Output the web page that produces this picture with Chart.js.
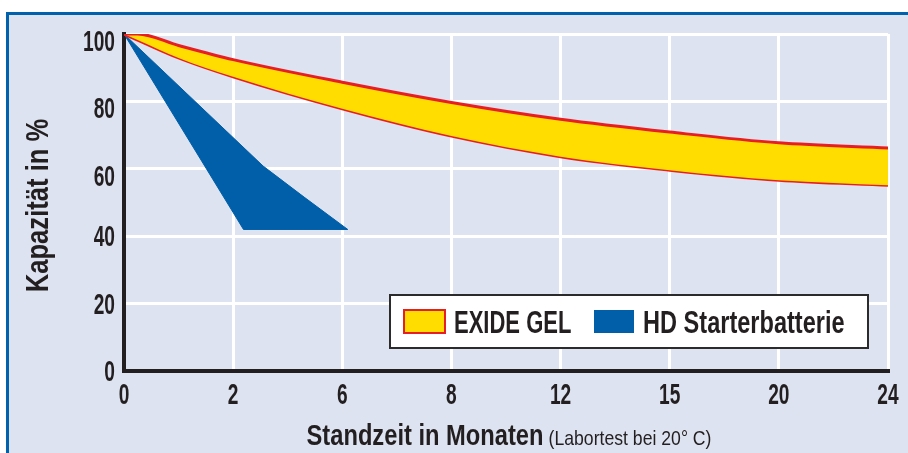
<!DOCTYPE html>
<html lang="de">
<head>
<meta charset="utf-8">
<title>Kapazität in % – Standzeit in Monaten</title>
<script src="https://cdn.jsdelivr.net/npm/chart.js@4.4.1/dist/chart.umd.min.js"></script>
<style>
  html, body { margin: 0; padding: 0; background: #fff; }
  canvas { display: block; }
</style>
</head>
<body>
<canvas id="chart" width="908" height="453"></canvas>
<script>
// x axis tick labels (months) - evenly spaced on the axis
const monthTicks = [0, 2, 6, 8, 12, 15, 20, 24];

const seriesNames = ['EXIDE GEL', 'HD Starterbatterie'];

// EXIDE GEL band: upper and lower edge (months / %)
const gelMonths = [0, 0.25, 1, 2, 6, 8, 12, 15, 20, 24];
const gelUpper  = [100, 100, 96.6, 92.4, 85.7, 79.7, 74.7, 70.9, 67.7, 66.2];
const gelLower  = [100, 98.2, 92.9, 87.3, 77.8, 69.7, 63.6, 59.6, 56.6, 55.1];

// HD Starterbatterie wedge: right (upper) edge and left/bottom edge
const hdRightMonths = [0, 3.1, 4.6, 6.1];
const hdRight       = [100, 60.8, 51.6, 42];
const hdLeftMonths  = [0, 2.38, 6.1];
const hdLeft        = [100, 42, 42];

const PANEL = '#dde3f0';
const FRAME = '#0062ac';
const YELLOW = '#ffdd00';
const RED = '#e81e25';
const BLUE = '#005fa8';
const INK = '#231f20';
const SANS = "'Liberation Sans', Arial, sans-serif";

// the month axis is not linear: every tick gets the same width
function monthToPos(m) {
    for (let i = 0; i < monthTicks.length - 1; i++) {
        const a = monthTicks[i], b = monthTicks[i + 1];
        if (m <= b) return i + (m - a) / (b - a);
    }
    return monthTicks.length - 1;
}

const toPoints = (months, values) => months.map((m, i) => ({ x: monthToPos(m), y: values[i] }));

// condensed look: draw the text squeezed horizontally
function drawText(ctx, text, x, y, font, sx, align, rotate) {
    ctx.save();
    ctx.translate(x, y);
    if (rotate) ctx.rotate(rotate);
    ctx.scale(sx, 1);
    ctx.font = font;
    ctx.textAlign = align || 'left';
    ctx.textBaseline = 'alphabetic';
    ctx.fillStyle = INK;
    ctx.fillText(text, 0, 0);
    ctx.restore();
}

function textWidth(ctx, text, font, sx) {
    ctx.save();
    ctx.font = font;
    const w = ctx.measureText(text).width * sx;
    ctx.restore();
    return w;
}

// light panel with the blue frame line on top and left
const framePlugin = {
    id: 'frame',
    beforeDraw(chart) {
        const { ctx, width, height } = chart;
        ctx.save();
        ctx.fillStyle = '#fff';
        ctx.fillRect(0, 0, width, height);
        ctx.fillStyle = PANEL;
        ctx.fillRect(6, 12, width - 6, height - 12);
        ctx.fillStyle = FRAME;
        ctx.fillRect(6, 12, width - 6, 3);
        ctx.fillRect(6, 12, 3, height - 12);
        ctx.restore();
    }
};

// tick labels and axis titles
const labelsPlugin = {
    id: 'axisLabels',
    afterDraw(chart) {
        const { ctx, chartArea, scales: { x, y } } = chart;
        const tickFont = 'bold 29px ' + SANS;

        x.ticks.forEach(t => {
            drawText(ctx, String(monthTicks[t.value]), x.getPixelForValue(t.value), x.top + 33, tickFont, 0.66, 'center');
        });
        y.ticks.forEach(t => {
            const shift = t.value >= 60 ? 7 : 0;
            drawText(ctx, String(t.value), y.right - 9, y.getPixelForValue(t.value) + 10 + shift, tickFont, 0.66, 'right');
        });

        // y title
        drawText(ctx, 'Kapazität in %', 48, (chartArea.top + chartArea.bottom) / 2 + 3,
                 'bold 32px ' + SANS, 0.8, 'center', -Math.PI / 2);

        // x title, two sizes
        const main = 'Standzeit in Monaten';
        const note = '(Labortest bei 20° C)';
        const f1 = 'bold 30px ' + SANS, s1 = 0.79;
        const f2 = '21px ' + SANS, s2 = 0.84;
        const w1 = textWidth(ctx, main, f1, s1);
        const w2 = textWidth(ctx, note, f2, s2);
        const gap = 5;
        const cx = (chartArea.left + chartArea.right) / 2 + 3;
        const x0 = cx - (w1 + gap + w2) / 2;
        const by = chartArea.bottom + 74;
        drawText(ctx, main, x0, by, f1, s1);
        drawText(ctx, note, x0 + w1 + gap, by, f2, s2);
    }
};

// boxed legend inside the plot, bottom right
const legendPlugin = {
    id: 'boxLegend',
    afterDraw(chart) {
        const { ctx, chartArea } = chart;
        const w = 478, h = 53;
        const right = chartArea.right - 20;
        const bottom = chartArea.bottom - 23;
        const left = right - w, top = bottom - h;
        const font = 'bold 31px ' + SANS;
        ctx.save();
        ctx.fillStyle = '#fff';
        ctx.fillRect(left, top, w, h);
        ctx.strokeStyle = '#2b2b2b';
        ctx.lineWidth = 2;
        ctx.strokeRect(left, top, w, h);

        // EXIDE GEL
        let x = left + 14;
        ctx.fillStyle = YELLOW;
        ctx.fillRect(x, top + 15, 41, 23);
        ctx.strokeStyle = RED;
        ctx.lineWidth = 2;
        ctx.strokeRect(x, top + 15, 41, 23);
        drawText(ctx, seriesNames[0], x + 50, top + 38, font, 0.71);

        // HD Starterbatterie
        x = left + 204;
        ctx.fillStyle = BLUE;
        ctx.fillRect(x, top + 15, 40, 23);
        drawText(ctx, seriesNames[1], x + 49, top + 38, font, 0.76);
        ctx.restore();
    }
};

const ctx = document.getElementById('chart').getContext('2d');

new Chart(ctx, {
    type: 'line',
    data: {
        datasets: [
            {
                label: seriesNames[0],
                data: toPoints(gelMonths, gelUpper),
                borderColor: RED,
                borderWidth: 3,
                backgroundColor: YELLOW,
                fill: '+1'
            },
            {
                label: seriesNames[0] + ' (min)',
                data: toPoints(gelMonths, gelLower),
                borderColor: RED,
                borderWidth: 3,
                fill: false
            },
            {
                label: seriesNames[1],
                data: toPoints(hdRightMonths, hdRight),
                borderColor: BLUE,
                borderWidth: 1,
                backgroundColor: BLUE,
                tension: 0,
                cubicInterpolationMode: 'default',
                fill: '+1'
            },
            {
                label: seriesNames[1] + ' (min)',
                data: toPoints(hdLeftMonths, hdLeft),
                borderColor: BLUE,
                borderWidth: 1,
                tension: 0,
                cubicInterpolationMode: 'default',
                fill: false
            }
        ]
    },
    options: {
        responsive: false,
        animation: false,
        elements: {
            point: { radius: 0 },
            line: { cubicInterpolationMode: 'monotone' }
        },
        layout: { padding: { top: 34, right: 20, left: 0, bottom: 0 } },
        plugins: {
            legend: { display: false },
            tooltip: { enabled: false }
        },
        scales: {
            x: {
                type: 'linear',
                min: 0,
                max: monthTicks.length - 1,
                afterFit: (scale) => { scale.height = 82; },
                grid: { color: '#fff', lineWidth: 3, drawTicks: false },
                border: { color: INK, width: 4 },
                ticks: { stepSize: 1, display: false }
            },
            y: {
                min: 0,
                max: 100,
                afterFit: (scale) => { scale.width = 124; },
                grid: { color: '#fff', lineWidth: 3, drawTicks: false },
                border: { color: INK, width: 4 },
                ticks: { stepSize: 20, display: false }
            }
        }
    },
    plugins: [framePlugin, labelsPlugin, legendPlugin]
});
</script>
</body>
</html>
